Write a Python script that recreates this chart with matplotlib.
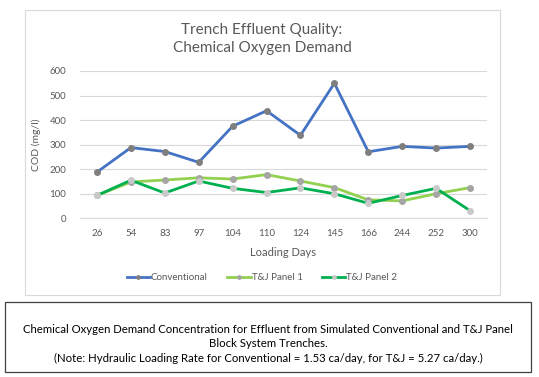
import matplotlib
matplotlib.use("Agg")
import matplotlib.pyplot as plt
from matplotlib.patches import Rectangle

plt.rcParams["font.family"] = ["Lato", "DejaVu Sans"]

days = ["26", "54", "83", "97", "104", "110", "124", "145", "166", "244", "252", "300"]
conventional = [188, 288, 272, 228, 375, 438, 338, 550, 271, 293, 286, 293]
panel1 = [93, 148, 156, 165, 160, 178, 152, 125, 75, 71, 100, 125]
panel2 = [93, 155, 103, 152, 122, 105, 124, 100, 61, 93, 122, 31]

GRID = "#D9D9D9"
TXT = "#595959"

fig = plt.figure(figsize=(5.39, 3.77), dpi=100)
W, H = 539, 377

# chart frame
fig.add_artist(Rectangle((25 / W, 1 - 295 / H), 475 / W, 285 / H, transform=fig.transFigure,
                         fill=False, edgecolor=GRID, linewidth=0.8))
# caption box
fig.add_artist(Rectangle((5 / W, 1 - 372 / H), 526 / W, 70 / H, transform=fig.transFigure,
                         fill=False, edgecolor="#404040", linewidth=0.9))

ax = fig.add_axes([80 / W, 1 - 218.3 / H, 407 / W, 147.3 / H])
x = range(len(days))
ax.plot(x, conventional, color="#4472C4", lw=2, marker="o", ms=4,
        mfc="#7F7F7F", mec="#7F7F7F", label="Conventional")
ax.plot(x, panel1, color="#92D050", lw=2, marker="o", ms=4,
        mfc="#A5A5A5", mec="#A5A5A5", label="T&J Panel 1")
ax.plot(x, panel2, color="#00B050", lw=2, marker="o", ms=4,
        mfc="#C9C9C9", mec="#C9C9C9", label="T&J Panel 2")

ax.set_ylim(0, 600)
ax.set_yticks(range(0, 601, 100))
ax.set_xlim(-0.5, len(days) - 0.5)
ax.set_xticks(list(x))
ax.set_xticklabels(days)
ax.grid(axis="y", color=GRID, lw=0.8)
ax.set_axisbelow(True)
for s in ["top", "right", "left"]:
    ax.spines[s].set_visible(False)
ax.spines["bottom"].set_color(GRID)
ax.tick_params(length=0, labelsize=7, colors=TXT, pad=8)
ax.tick_params(axis="y", pad=10)
ax.set_ylabel("COD (mg/l)", fontsize=7.5, color=TXT, labelpad=6)
ax.set_xlabel("Loading Days", fontsize=8, color=TXT, labelpad=6)

fig.text(262 / W, 1 - 39 / H, "Trench Effluent Quality:\nChemical Oxygen Demand",
         ha="center", va="center", fontsize=11, color=TXT, linespacing=1.4)

fig.legend(loc="center", bbox_to_anchor=(262 / W, 1 - 278 / H), ncol=3, frameon=False,
           fontsize=7, labelcolor=TXT, handlelength=2.4, columnspacing=2.0, handletextpad=0.1,
           markerscale=0.6)

fig.text(268 / W, 1 - 344 / H,
         "Chemical Oxygen Demand Concentration for Effluent from Simulated Conventional and T&J Panel\n"
         "Block System Trenches.\n"
         "(Note: Hydraulic Loading Rate for Conventional = 1.53 ca/day, for T&J = 5.27 ca/day.)",
         ha="center", va="center", fontsize=8.2, color="black", linespacing=1.35)

fig.savefig("out.png", dpi=100)
